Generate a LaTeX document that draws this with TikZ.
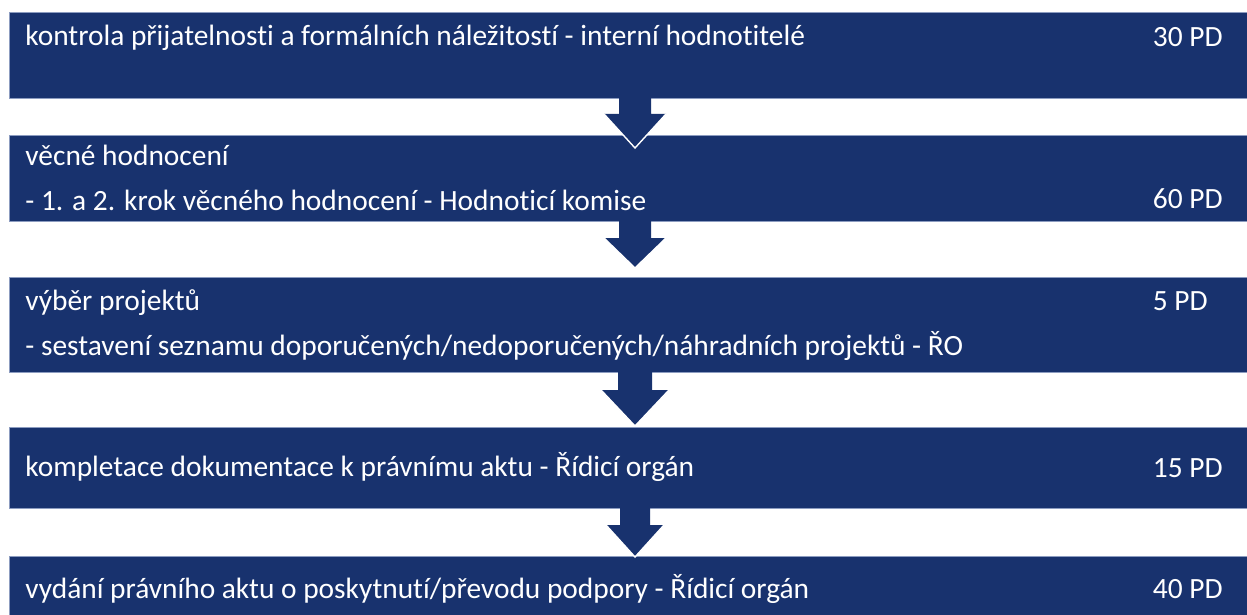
\documentclass[tikz,border=0pt]{standalone}
\usepackage{fontspec}
\setmainfont[Ligatures=NoCommon]{Carlito}
\usetikzlibrary{calc}
\definecolor{boxblue}{RGB}{24,50,110}
\definecolor{boxedge}{RGB}{140,156,192}
\newcommand\blkarrow[5]{%
  \fill[boxblue, shift={(#1.south -| ax)}] (-#2,-1) -- (-#2,#4) -- (-#3,#4) -- (0,#5) -- (#3,#4) -- (#2,#4) -- (#2,-1) -- cycle;
  \draw[white, line width=0.7pt, line join=miter, shift={(#1.south -| ax)}] (-#3,#4) -- (0,#5) -- (#3,#4);
}
\begin{document}
\begin{tikzpicture}[x=0.5pt,y=-0.5pt,
  box/.style={draw=boxedge, line width=0.4pt, fill=boxblue, anchor=north west, inner sep=0pt, outer sep=0pt, minimum width=622.5pt},
  lbl/.style={text=white, anchor=base west, inner sep=0pt, font=\fontsize{14.7}{17}\selectfont},
  pd/.style={text=white, anchor=base east, inner sep=0pt, font=\fontsize{14.7}{17}\selectfont}]
\useasboundingbox (0,0) rectangle (1247,615);
\fill[white] (0,0) rectangle (1247,615);
\coordinate (ax) at (635,0);
\node[box, minimum height=43pt] (b1) at (9,12) {};
\node[box, minimum height=43pt] (b2) at (9,135) {};
\node[box, minimum height=47.5pt] (b3) at (9,277) {};
\node[box, minimum height=40.5pt] (b4) at (9,427) {};
\node[box, minimum height=34pt] (b5) at (9,556) {};
\blkarrow{b1}{16}{31}{16}{50}
\blkarrow{b2}{16}{31}{17}{47}
\blkarrow{b3}{17}{34}{18}{54}
\blkarrow{b4}{15}{29}{17}{49}
\node[lbl] (t1) at (25,46) {kontrola přijatelnosti a formálních náležitostí - interní hodnotitelé};
\node[pd] (p1) at (1223,47) {30 PD};
\node[lbl] (t2a) at (25,165) {věcné hodnocení};
\node[lbl] (t2b) at (25,210) {- 1. a 2. krok věcného hodnocení - Hodnoticí komise};
\node[pd] (p2) at (1223,208) {60 PD};
\node[lbl] (t3a) at (25,310) {výběr projektů};
\node[lbl] (t3b) at (25,355) {- sestavení seznamu doporučených/nedoporučených/náhradních projektů - ŘO};
\node[pd] (p3) at (1208,310) {5 PD};
\node[lbl] (t4) at (25,476) {kompletace dokumentace k právnímu aktu - Řídicí orgán};
\node[pd] (p4) at (1223,477) {15 PD};
\node[lbl] (t5) at (25,598) {vydání právního aktu o poskytnutí/převodu podpory - Řídicí orgán};
\node[pd] (p5) at (1223,598) {40 PD};
\end{tikzpicture}
\end{document}
